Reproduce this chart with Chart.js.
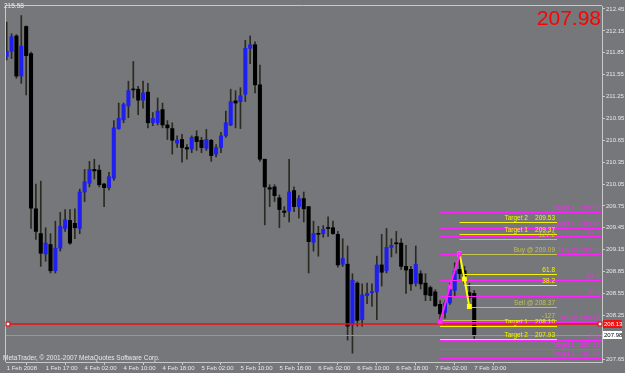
<!DOCTYPE html>
<html>
<head>
<meta charset="utf-8">
<script src="https://cdn.jsdelivr.net/npm/chart.js@4.4.0/dist/chart.umd.min.js"></script>
<style>
  html, body { margin: 0; padding: 0; background: #76777a; }
  #wrap { width: 625px; height: 373px; }
</style>
</head>
<body>
<div id="wrap"><canvas id="chart" width="625" height="373"></canvas></div>
<script>
// --- hourly bars (1 Feb 2008 -> 7 Feb 10:00) ---
const opens = [211.80,211.87,212.08,211.53,212.21,211.84,209.71,209.37,209.09,209.22,
  208.86,209.17,209.44,209.55,209.51,209.44,209.94,210.06,210.25,210.24,
  210.05,210.00,210.13,210.81,210.93,211.12,211.35,211.35,211.20,211.31,
  210.89,210.89,211.07,210.86,210.81,210.61,210.66,210.55,210.53,210.70,
  210.65,210.54,210.65,210.46,210.55,210.71,210.86,211.19,211.18,211.28,
  211.91,211.96,211.41,210.39,210.00,210.01,209.86,209.68,209.68,209.96,
  209.74,209.85,209.74,209.25,209.37,209.37,209.44,209.45,209.36,208.95,
  208.95,208.12,208.69,208.19,208.52,208.56,208.57,208.94,208.86,209.18,
  209.24,209.24,208.92,208.88,208.69,208.82,208.69,208.63,208.57,208.40,
  208.29,208.42,208.59,208.88,208.86,208.56,208.55];
const highs = [212.27,212.11,212.10,212.36,212.22,211.86,210.05,210.09,209.45,209.37,
  209.54,209.66,209.70,209.70,209.71,209.98,210.25,210.36,210.39,210.31,
  210.06,210.21,210.92,211.16,211.16,211.46,211.73,211.39,211.46,211.43,
  211.03,211.23,211.16,210.92,210.89,210.71,210.73,210.59,210.71,210.78,
  210.69,210.80,210.66,210.59,210.76,211.05,211.35,211.33,211.37,212.02,
  212.08,212.00,211.68,210.39,210.04,210.04,209.90,209.74,210.39,210.01,
  209.89,209.94,209.74,209.54,209.47,209.48,209.60,209.54,209.40,209.30,
  209.20,208.82,208.71,208.68,208.69,208.68,209.06,209.36,209.44,209.30,
  209.40,209.30,209.21,208.92,209.20,208.86,208.82,208.65,208.60,208.45,
  208.45,208.69,208.97,209.09,208.92,208.69,208.59];
const lows = [211.75,211.77,211.50,211.43,211.27,209.44,209.29,208.92,208.99,208.83,
  208.83,209.13,209.40,209.22,209.30,209.37,209.81,210.01,210.12,210.01,
  209.74,209.97,210.10,210.80,210.89,210.96,211.23,211.00,211.09,210.82,
  210.85,210.86,210.82,210.66,210.46,210.55,210.35,210.39,210.48,210.51,
  210.48,210.51,210.36,210.42,210.48,210.69,210.85,210.82,210.81,211.18,
  211.70,211.30,210.36,209.49,209.74,209.81,209.45,209.60,209.53,209.67,
  209.58,209.53,208.83,209.13,209.06,209.32,209.33,209.36,208.91,208.92,
  207.91,207.73,208.10,208.10,208.41,208.37,208.19,208.65,208.83,209.05,
  209.10,208.88,208.55,208.59,208.65,208.61,208.45,208.45,208.37,208.16,
  208.21,208.40,208.52,208.75,208.68,208.38,207.93];
const closes = [211.87,212.07,211.53,211.94,211.81,209.72,209.40,209.10,209.24,208.86,
  209.17,209.47,209.56,209.24,209.45,209.94,210.08,210.25,210.23,210.04,
  210.00,210.15,210.82,210.95,211.14,211.33,211.34,211.20,211.30,210.89,
  210.95,211.05,210.86,210.82,210.65,210.65,210.55,210.53,210.69,210.63,
  210.55,210.66,210.44,210.55,210.71,210.89,211.18,211.16,211.26,211.91,
  211.96,211.41,210.39,210.01,209.98,209.89,209.70,209.66,209.94,209.74,
  209.85,209.71,209.26,209.37,209.36,209.43,209.44,209.37,208.94,209.03,
  208.10,208.73,208.18,208.53,208.55,208.57,208.94,208.84,209.18,209.21,
  209.23,208.92,208.87,208.68,208.95,208.68,208.53,208.52,208.38,208.27,
  208.42,208.65,208.86,208.82,208.75,208.49,207.98];

const timeTickIdx = [0, 8, 16, 24, 32, 40, 48, 56, 64, 72, 80, 88, 96];
const timeLabels = ["1 Feb 2008", "1 Feb 17:00", "4 Feb 02:00", "4 Feb 10:00", "4 Feb 18:00",
  "5 Feb 02:00", "5 Feb 10:00", "5 Feb 18:00", "6 Feb 02:00", "6 Feb 10:00",
  "6 Feb 18:00", "7 Feb 02:00", "7 Feb 10:00"];
const priceTicks = [212.45, 212.15, 211.85, 211.55, 211.25, 210.95, 210.65, 210.35,
  210.05, 209.75, 209.45, 209.15, 208.85, 208.55, 208.25, 207.65];

// fibo levels (yellow set ends at bar 113, magenta runs to the right edge)
const yellowPrices = [209.53, 209.37, 209.29, 209.09, 208.81, 208.67, 208.37, 208.18, 208.10, 207.93];
const yellowLabels = ["Target 2    209.53", "Target 1    209.37", "127.2", "Buy @ 209.09", "61.8",
  "38.2", "Sell @ 208.37", "-127", "Target 1    208.10", "Target 2    207.93"];
const yellowFrom = [93, 93, 93, 93, 94, 94, 95, 89, 89, 89];
const yellowDim = [false, false, true, true, false, false, true, true, false, false];
const yellowTo = 113;

const magentaPrices = [209.67, 209.45, 209.34, 209.09, 208.73, 208.52, 208.16, 207.91, 207.79, 207.66];
const magentaLabels = ["Target 2 : 209.67", "Target 1 : 209.45", "127.2", "Buy @ 209.09", "61.8",
  "38.2", "Sell @ 208.16", "-127", "Target 1 : 207.79", "Target 2 : 207.66"];
const magentaFrom = 89;

const magentaZigX = [89, 91, 93];
const magentaZigY = [208.16, 208.64, 209.09];
const yellowZigX = [93, 94, 95];
const yellowZigY = [209.09, 208.75, 208.37];

const hLinePrice = 208.13;
const bidPrice = closes[closes.length - 1];

const BG = '#76777a';
const FRAME = '#c8c8c8';
const TXT = '#e8e8e8';
const YEL = '#f4f400';
const YEL_DIM = '#c2c250';
const MAG = '#ff22ff';
const FONT = '"Liberation Sans", Arial, sans-serif';
const SMALL = '6.5px ' + FONT;

Chart.defaults.font.family = FONT;

const mtPlugin = {
  id: 'mt',
  beforeDraw(chart) {
    const ctx = chart.ctx;
    ctx.save();
    ctx.fillStyle = BG;
    ctx.fillRect(0, 0, chart.width, chart.height);
    ctx.restore();
  },
  afterDatasetDraw(chart, args) {
    if (args.index !== 2) return; // right after candle bodies, before zigzags
    const ctx = chart.ctx, xs = chart.scales.x, ys = chart.scales.y, area = chart.chartArea;
    const py = v => Math.round(ys.getPixelForValue(v)) + 0.5;
    ctx.save();
    ctx.font = SMALL;
    ctx.textBaseline = 'bottom';
    ctx.textAlign = 'right';
    ctx.lineWidth = 1;

    // bid line
    ctx.strokeStyle = '#8a9aab';
    ctx.beginPath(); ctx.moveTo(area.left, py(bidPrice)); ctx.lineTo(area.right, py(bidPrice)); ctx.stroke();

    // magenta set
    magentaPrices.forEach((p, i) => {
      const y = py(p);
      const x1 = xs.getPixelForValue(magentaFrom);
      ctx.strokeStyle = MAG;
      ctx.beginPath(); ctx.moveTo(x1, y); ctx.lineTo(area.right - 1, y); ctx.stroke();
      ctx.fillStyle = MAG;
      ctx.fillText(magentaLabels[i], area.right - 2, y - 1);
    });

    // yellow set
    yellowPrices.forEach((p, i) => {
      const y = py(p);
      const x1 = xs.getPixelForValue(yellowFrom[i]);
      const x2 = xs.getPixelForValue(yellowTo);
      const col = yellowDim[i] ? YEL_DIM : YEL;
      ctx.strokeStyle = col;
      ctx.beginPath(); ctx.moveTo(x1, y); ctx.lineTo(x2, y); ctx.stroke();
      ctx.fillStyle = col;
      ctx.fillText(yellowLabels[i], x2 - 2, y - 1);
    });

    // red horizontal line
    const ry = ys.getPixelForValue(hLinePrice);
    ctx.strokeStyle = '#ee1111';
    ctx.lineWidth = 1.5;
    ctx.beginPath(); ctx.moveTo(area.left, ry); ctx.lineTo(area.right, ry); ctx.stroke();
    ctx.restore();
  },
  afterDraw(chart) {
    const ctx = chart.ctx, ys = chart.scales.y, area = chart.chartArea;
    ctx.save();
    // frame top / left
    ctx.strokeStyle = FRAME;
    ctx.lineWidth = 1;
    ctx.beginPath();
    ctx.moveTo(area.left - 0.5, area.bottom);
    ctx.lineTo(area.left - 0.5, area.top - 0.5);
    ctx.lineTo(area.right, area.top - 0.5);
    ctx.stroke();

    ctx.font = SMALL;
    ctx.fillStyle = TXT;
    ctx.textAlign = 'left';
    ctx.textBaseline = 'top';
    ctx.fillText('215.58', 4, 3);
    ctx.textBaseline = 'alphabetic';
    ctx.fillText('MetaTrader, \u00A9 2001-2007 MetaQuotes Software Corp.', 3, 359.5);

    // big bid number
    ctx.font = '21px ' + FONT;
    ctx.fillStyle = '#ff0000';
    ctx.textAlign = 'right';
    ctx.fillText(bidPrice.toFixed(2), 601, 25);

    // handles of the red line
    const ry = Math.round(ys.getPixelForValue(hLinePrice));
    ctx.fillStyle = '#ffffff';
    ctx.strokeStyle = '#ee1111';
    ctx.lineWidth = 1;
    [area.left + 1.5, area.right - 2.5].forEach(x => {
      ctx.fillRect(x - 1, ry - 1.5, 3, 3);
      ctx.strokeRect(x - 1.5, ry - 2, 4, 4);
    });

    // price boxes on the axis
    ctx.font = '6px ' + FONT;
    ctx.textAlign = 'left';
    ctx.textBaseline = 'middle';
    const by = Math.round(ys.getPixelForValue(bidPrice));
    ctx.fillStyle = '#ee1111';
    ctx.fillRect(area.right + 1, ry - 4, 19, 8);
    ctx.fillStyle = '#ffffff';
    ctx.fillText(hLinePrice.toFixed(2), area.right + 2, ry + 0.5);
    ctx.fillStyle = '#ffffff';
    ctx.fillRect(area.right + 1, by - 4, 19, 8);
    ctx.fillStyle = '#000000';
    ctx.fillText(bidPrice.toFixed(2), area.right + 2, by + 0.5);
    ctx.restore();
  }
};

const idx = opens.map((_, i) => i);
const bodyColors = idx.map(i => closes[i] > opens[i] ? '#1f1ff0' : '#000000');

new Chart(document.getElementById('chart'), {
  type: 'bar',
  data: {
    datasets: [
      {
        type: 'line',
        data: magentaZigX.map((x, i) => ({ x, y: magentaZigY[i] })),
        borderColor: MAG, borderWidth: 2, tension: 0,
        pointStyle: 'rect', pointRadius: 2, pointBackgroundColor: '#ffc8ff', pointBorderColor: MAG,
        order: 0
      },
      {
        type: 'line',
        data: yellowZigX.map((x, i) => ({ x, y: yellowZigY[i] })),
        borderColor: '#ffff00', borderWidth: 2, tension: 0,
        pointStyle: 'rect', pointRadius: 2, pointBackgroundColor: '#ffff90', pointBorderColor: '#ffff00',
        order: 0
      },
      {
        data: idx.map(i => ({ x: i, y: [opens[i], closes[i]] })),
        backgroundColor: bodyColors,
        borderWidth: 0,
        barThickness: 3.4,
        minBarLength: 1,
        grouped: false,
        order: 2
      },
      {
        data: idx.map(i => ({ x: i, y: [lows[i], highs[i]] })),
        backgroundColor: '#2a2a20',
        borderWidth: 0,
        barThickness: 1,
        grouped: false,
        order: 3
      }
    ]
  },
  options: {
    responsive: false,
    animation: false,
    events: [],
    layout: { padding: { left: 2, top: 2, right: 0, bottom: 0 } },
    plugins: { legend: { display: false }, tooltip: { enabled: false } },
    scales: {
      x: {
        type: 'linear',
        min: -0.14,
        max: 122.24,
        offset: false,
        afterBuildTicks: s => { s.ticks = timeTickIdx.map(v => ({ value: v })); },
        afterFit: s => { s.height = 11; s.paddingLeft = 0; s.paddingRight = 0; },
        ticks: {
          callback: (v, i) => timeLabels[i],
          autoSkip: false, maxRotation: 0, minRotation: 0,
          align: 'start', padding: 0,
          color: TXT, font: { size: 6 }
        },
        grid: { display: true, drawOnChartArea: false, drawTicks: true, tickLength: 3, color: FRAME },
        border: { display: true, color: FRAME }
      },
      y: {
        type: 'linear',
        position: 'right',
        min: 207.609,
        max: 212.491,
        afterBuildTicks: s => { s.ticks = priceTicks.map(v => ({ value: v })); },
        afterFit: s => { s.width = 23; s.paddingTop = 0; s.paddingBottom = 0; },
        ticks: {
          callback: v => v.toFixed(2),
          padding: 1,
          color: TXT, font: { size: 6 }
        },
        grid: { display: true, drawOnChartArea: false, drawTicks: true, tickLength: 3, color: FRAME },
        border: { display: true, color: FRAME }
      }
    }
  },
  plugins: [mtPlugin]
});
</script>
</body>
</html>
